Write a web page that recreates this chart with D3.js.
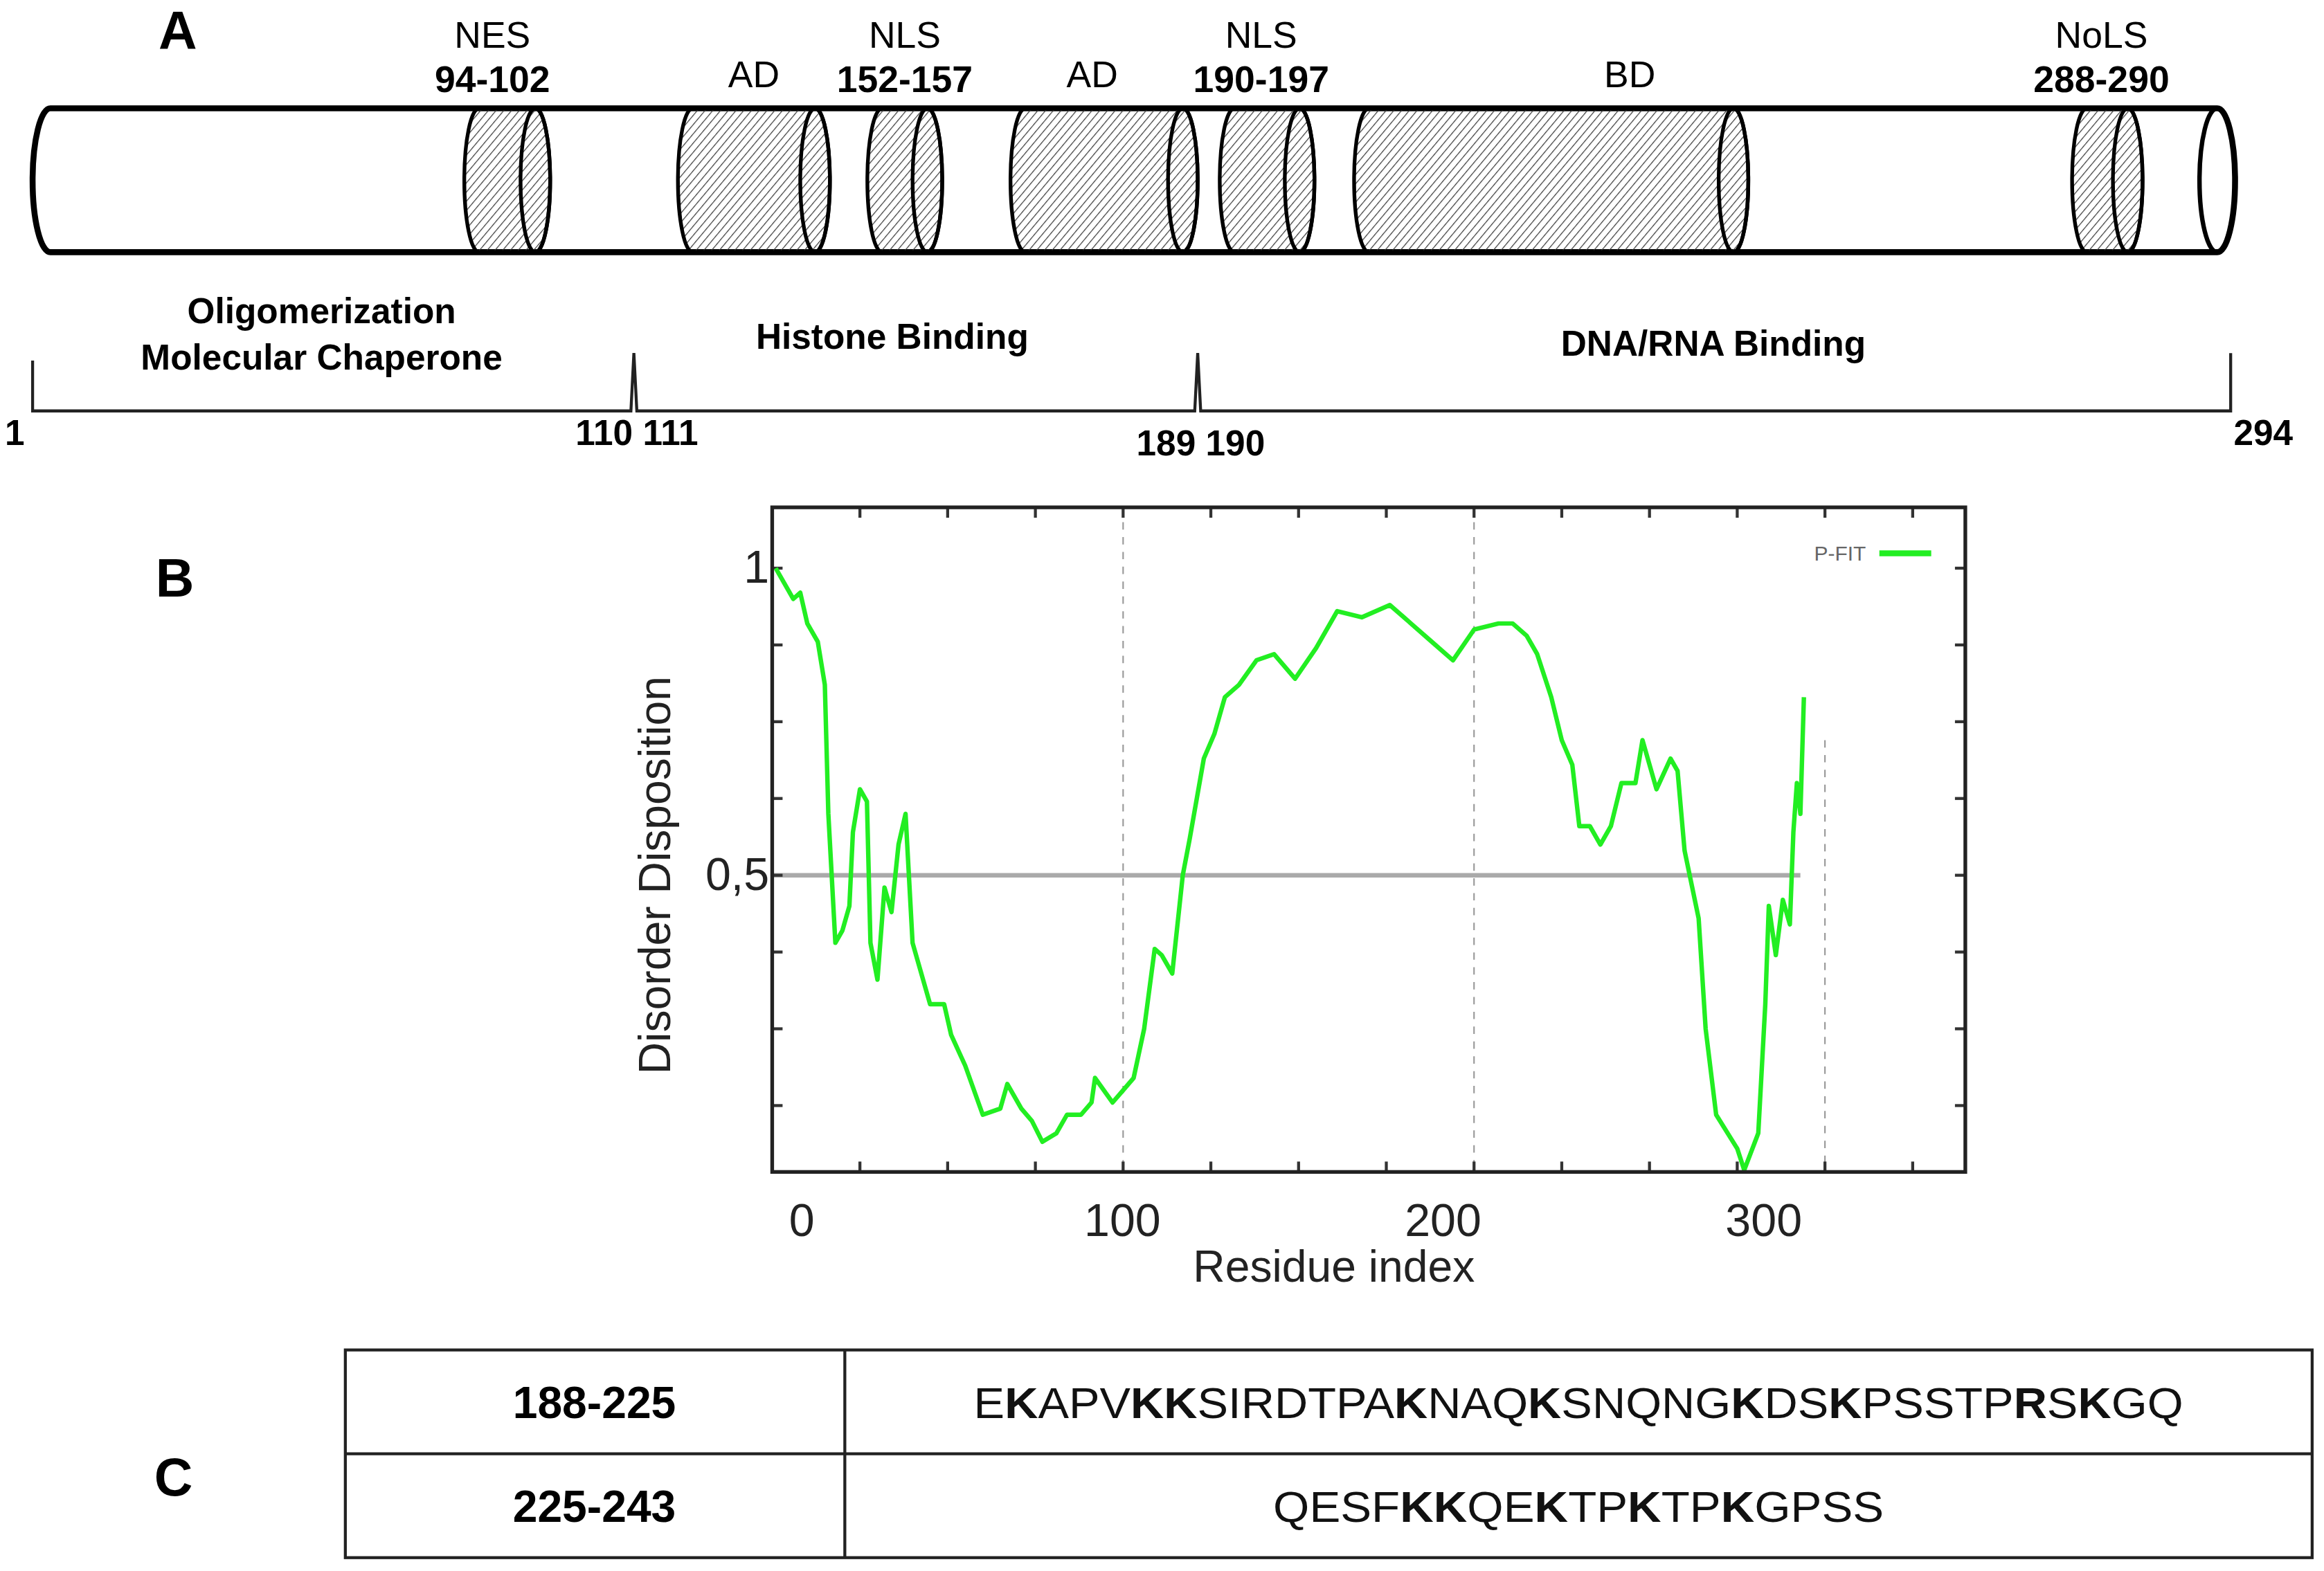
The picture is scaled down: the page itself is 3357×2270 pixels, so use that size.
<!DOCTYPE html>
<html>
<head>
<meta charset="utf-8">
<script src="https://cdn.jsdelivr.net/npm/d3@7"></script>
<style>
  body { margin: 0; background: #fff; }
  text { font-family: "Liberation Sans Narrow", "Liberation Sans", Arial, sans-serif; }
</style>
</head>
<body>
<div id="plot"></div>
<script>
(function() {
// ---- panel A data ----
var domainNames  = ["NES", "AD", "NLS", "AD", "NLS", "BD", "NoLS"];
var domainRanges = ["94-102", "", "152-157", "", "190-197", "", "288-290"];
// schematic start / end along the drawn cylinder (0..100)
var domainStart  = [19.6, 29.3, 37.9, 44.4, 53.9, 60.0, 92.6];
var domainEnd    = [23.5, 36.2, 41.3, 52.9, 58.2, 77.9, 95.8];
var labelShift   = [-10, 0, 0, -8, -4, 53, -4];

var regionNames  = [["Oligomerization", "Molecular Chaperone"], ["Histone  Binding"], ["DNA/RNA  Binding"]];
var regionBounds = [0, 27.3, 52.9, 99.8];
var boundLabels  = ["1", "110 111", "189 190", "294"];

// ---- panel B data (P-FIT disorder disposition) ----
var residue = [1, 6, 8, 10, 13, 15, 16, 18, 20, 22, 23, 25, 27, 28, 30, 32, 34, 36, 38, 40, 42, 45, 49, 51, 55, 60, 65, 67, 71, 74, 77, 81, 84, 88, 91, 92, 97, 100, 103, 106, 109, 111, 114, 117, 119, 123, 126, 129, 133, 138, 143, 149, 155, 161, 168, 176, 182, 188, 194, 200, 207, 211, 215, 218, 222, 225, 228, 230, 233, 236, 239, 242, 246, 248, 250, 252, 256, 258, 260, 264, 266, 269, 275, 277, 281, 283, 284, 286, 288, 290, 291, 292, 293, 294];
var disorder = [1.0, 0.95, 0.96, 0.91, 0.88, 0.81, 0.60, 0.39, 0.41, 0.45, 0.57, 0.64, 0.62, 0.39, 0.33, 0.48, 0.44, 0.55, 0.60, 0.39, 0.35, 0.29, 0.29, 0.24, 0.19, 0.11, 0.12, 0.16, 0.12, 0.10, 0.066, 0.08, 0.11, 0.11, 0.13, 0.17, 0.13, 0.15, 0.17, 0.25, 0.38, 0.37, 0.34, 0.50, 0.56, 0.69, 0.73, 0.79, 0.81, 0.85, 0.86, 0.82, 0.87, 0.93, 0.92, 0.94, 0.91, 0.88, 0.85, 0.90, 0.91, 0.91, 0.89, 0.86, 0.79, 0.72, 0.68, 0.58, 0.58, 0.55, 0.58, 0.65, 0.65, 0.72, 0.68, 0.64, 0.69, 0.67, 0.54, 0.43, 0.25, 0.11, 0.055, 0.02, 0.08, 0.29, 0.45, 0.37, 0.46, 0.42, 0.57, 0.65, 0.60, 0.79];
var xTickLabels = [0, 100, 200, 300];
var yTickLabels = [1, 0.5];

// ---- panel C data ----
var seqRanges = ["188-225", "225-243"];
var sequences = ["E[K]APV[KK]SIRDTPA[K]NAQ[K]SNQNG[K]DS[K]PSSTP[R]S[K]GQ", "QESF[KK]QE[K]TP[K]TP[K]GPSS"];

var W = 1568, H = 1059;
var svg = d3.select("#plot").append("svg")
  .attr("width", 3357).attr("height", 2270)
  .attr("viewBox", "0 0 " + W + " " + H)
  .attr("preserveAspectRatio", "none");

var defs = svg.append("defs");
defs.append("pattern").attr("id", "hatch").attr("patternUnits", "userSpaceOnUse")
  .attr("width", 4).attr("height", 4).attr("patternTransform", "rotate(40)")
  .append("line").attr("x1", 0).attr("y1", 0).attr("x2", 0).attr("y2", 4)
  .attr("stroke", "#333").attr("stroke-width", 1.1);

function panelLetter(t, x, y) {
  svg.append("text").attr("x", x).attr("y", y).attr("text-anchor", "middle")
    .attr("font-size", 36).attr("font-weight", "bold")
    .style("font-family", "Liberation Sans, Arial").text(t);
}

// ================= Panel A =================
panelLetter("A", 120, 33);
var cx = d3.scaleLinear().domain([0, 100]).range([22, 1508]);
var cTop = 73, cBot = 170, ry = (cBot - cTop) / 2, rx = 10;

function capsule(x0, x1, r) {
  return "M" + (x0 + r) + "," + cTop + " L" + (x1 - r) + "," + cTop +
    " A" + r + "," + ry + " 0 0 1 " + (x1 - r) + "," + cBot +
    " L" + (x0 + r) + "," + cBot +
    " A" + r + "," + ry + " 0 0 1 " + (x0 + r) + "," + cTop + " Z";
}
svg.append("path").attr("d", capsule(cx(0), cx(100), 12))
  .attr("fill", "#fff").attr("stroke", "#000").attr("stroke-width", 4);
svg.append("ellipse").attr("cx", cx(100) - 12).attr("cy", (cTop + cBot) / 2)
  .attr("rx", 12).attr("ry", ry).attr("fill", "none").attr("stroke", "#000").attr("stroke-width", 3);

domainNames.forEach(function(name, i) {
  var x0 = cx(domainStart[i]), x1 = cx(domainEnd[i]);
  svg.append("path").attr("d", capsule(x0, x1, rx))
    .attr("fill", "url(#hatch)").attr("stroke", "#000").attr("stroke-width", 2.5);
  svg.append("ellipse").attr("cx", x1 - rx).attr("cy", (cTop + cBot) / 2)
    .attr("rx", rx).attr("ry", ry).attr("fill", "none").attr("stroke", "#000").attr("stroke-width", 2.5);
  var mid = (x0 + x1) / 2 + labelShift[i];
  if (domainRanges[i]) {
    svg.append("text").attr("x", mid).attr("y", 32).attr("text-anchor", "middle")
      .attr("font-size", 25).text(name);
    svg.append("text").attr("x", mid).attr("y", 62).attr("text-anchor", "middle")
      .attr("font-size", 25).attr("font-weight", "bold").text(domainRanges[i]);
  } else {
    svg.append("text").attr("x", mid).attr("y", 59).attr("text-anchor", "middle")
      .attr("font-size", 25).text(name);
  }
});

// bracket
var by = 277;
var bracket = "M" + cx(regionBounds[0]) + ",243 L" + cx(regionBounds[0]) + "," + by;
for (var i = 1; i < regionBounds.length - 1; i++) {
  var bx = cx(regionBounds[i]);
  bracket += " L" + (bx - 2) + "," + by + " L" + bx + ",238 L" + (bx + 2) + "," + by;
}
bracket += " L" + cx(regionBounds[3]) + "," + by + " L" + cx(regionBounds[3]) + ",238";
svg.append("path").attr("d", bracket).attr("fill", "none").attr("stroke", "#222").attr("stroke-width", 2);

var regionX = [217, 602, 1156];
regionNames.forEach(function(lines, i) {
  var y0 = lines.length > 1 ? 218 : (i === 1 ? 235 : 240);
  lines.forEach(function(l, j) {
    svg.append("text").attr("x", regionX[i]).attr("y", y0 + j * 31).attr("text-anchor", "middle")
      .attr("font-size", 24).attr("font-weight", "bold").text(l);
  });
});
var boundLabelY = [300, 300, 307, 300];
boundLabels.forEach(function(l, i) {
  var x = cx(regionBounds[i]);
  var off = i === 0 ? -12 : (i === 3 ? 22 : 2);
  svg.append("text").attr("x", x + off).attr("y", boundLabelY[i]).attr("text-anchor", "middle")
    .attr("font-size", 24).attr("font-weight", "bold").text(l);
});

// ================= Panel B =================
panelLetter("B", 118, 402);
var pl = 521, pr = 1326, pt = 342, pb = 790;
var x = d3.scaleLinear().domain([0, 340]).range([pl, pr]);
var y = d3.scaleLinear().domain([0, 0.5]).range([797, 590]);
// label positions in the original figure are slightly compressed relative to grid
var xLab = d3.scaleLinear().domain([0, 300]).range([541, 1190]);

var g = svg.append("g");
[100, 200, 300].forEach(function(v) {
  g.append("line").attr("x1", x(v)).attr("x2", x(v))
    .attr("y1", v === 300 ? y(0.72) : pt).attr("y2", pb)
    .attr("stroke", "#999").attr("stroke-width", 1).attr("stroke-dasharray", "5,5");
});
g.append("line").attr("x1", pl).attr("x2", x(293)).attr("y1", y(0.5)).attr("y2", y(0.5))
  .attr("stroke", "#aaa").attr("stroke-width", 3);

// ticks inward on all four sides
var xt = d3.range(0, 341, 25), yt = d3.range(0.125, 1.1, 0.125);
xt.forEach(function(v) {
  g.append("line").attr("x1", x(v)).attr("x2", x(v)).attr("y1", pb).attr("y2", pb - 7).attr("stroke", "#333").attr("stroke-width", 2);
  g.append("line").attr("x1", x(v)).attr("x2", x(v)).attr("y1", pt).attr("y2", pt + 7).attr("stroke", "#333").attr("stroke-width", 2);
});
yt.forEach(function(v) {
  g.append("line").attr("x1", pl).attr("x2", pl + 7).attr("y1", y(v)).attr("y2", y(v)).attr("stroke", "#333").attr("stroke-width", 2);
  g.append("line").attr("x1", pr).attr("x2", pr - 7).attr("y1", y(v)).attr("y2", y(v)).attr("stroke", "#333").attr("stroke-width", 2);
});

var line = d3.line().x(function(d, i) { return x(residue[i]); }).y(function(d) { return y(d); });
g.append("path").datum(disorder).attr("d", line).attr("fill", "none")
  .attr("stroke", "#22ee22").attr("stroke-width", 3).attr("stroke-linejoin", "round");

g.append("rect").attr("x", pl).attr("y", pt).attr("width", pr - pl).attr("height", pb - pt)
  .attr("fill", "none").attr("stroke", "#222").attr("stroke-width", 2.5);

xTickLabels.forEach(function(v) {
  g.append("text").attr("x", xLab(v)).attr("y", 833).attr("text-anchor", "middle")
    .attr("font-size", 31).style("font-family", "Liberation Sans, Arial").attr("fill", "#222").text(v);
});
yTickLabels.forEach(function(v) {
  g.append("text").attr("x", 519).attr("y", y(v) + 10).attr("text-anchor", "end")
    .attr("font-size", 31).style("font-family", "Liberation Sans, Arial").attr("fill", "#222")
    .text(String(v).replace(".", ","));
});
g.append("text").attr("x", 900).attr("y", 864).attr("text-anchor", "middle")
  .attr("font-size", 30).style("font-family", "Liberation Sans, Arial").attr("fill", "#222").text("Residue index");
g.append("text").attr("transform", "translate(452,590) rotate(-90)").attr("text-anchor", "middle")
  .attr("font-size", 30).style("font-family", "Liberation Sans, Arial").attr("fill", "#222").text("Disorder Disposition");
g.append("text").attr("x", 1259).attr("y", 378).attr("text-anchor", "end")
  .attr("font-size", 14).attr("fill", "#666").text("P-FIT");
g.append("line").attr("x1", 1268).attr("x2", 1303).attr("y1", 373).attr("y2", 373)
  .attr("stroke", "#22ee22").attr("stroke-width", 4);

// ================= Panel C =================
panelLetter("C", 117, 1008);
var tl = 233, tr = 1560, tt = 910, tb = 1050, tm = 980, tv = 570;
var row = d3.scaleBand().domain(seqRanges).range([tt, tb]);
svg.append("rect").attr("x", tl).attr("y", tt).attr("width", tr - tl).attr("height", tb - tt)
  .attr("fill", "none").attr("stroke", "#222").attr("stroke-width", 2);
svg.append("line").attr("x1", tl).attr("x2", tr).attr("y1", tm).attr("y2", tm).attr("stroke", "#222").attr("stroke-width", 2);
svg.append("line").attr("x1", tv).attr("x2", tv).attr("y1", tt).attr("y2", tb).attr("stroke", "#222").attr("stroke-width", 2);

var seqWidth = [816, 412];
seqRanges.forEach(function(r, i) {
  var cy = row(r) + row.bandwidth() / 2 + 11;
  svg.append("text").attr("x", 401).attr("y", cy).attr("text-anchor", "middle")
    .attr("font-size", 30).attr("font-weight", "bold").style("font-family", "Liberation Sans, Arial").text(r);
  var t = svg.append("text").attr("x", 1065 - seqWidth[i] / 2).attr("y", cy)
    .attr("textLength", seqWidth[i]).attr("lengthAdjust", "spacingAndGlyphs")
    .attr("font-size", 29).style("font-family", "Liberation Sans, Arial").attr("fill", "#111");
  sequences[i].split(/(\[[A-Z]+\])/).forEach(function(part) {
    if (!part) return;
    var bold = part[0] === "[";
    t.append("tspan").attr("font-weight", bold ? "bold" : "normal")
      .text(bold ? part.slice(1, -1) : part);
  });
});
})();
</script>
</body>
</html>
